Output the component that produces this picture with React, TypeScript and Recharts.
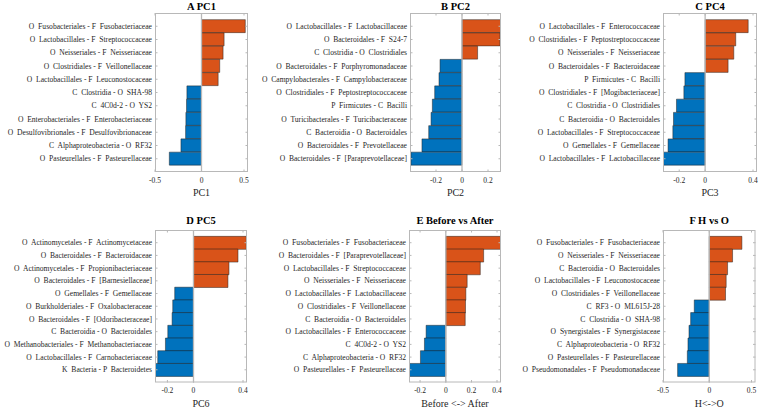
import { BarChart, Bar, XAxis, YAxis, Cell, ReferenceLine } from "recharts";

// A PC1
const pc1Labels = [
  "O  Fusobacteriales - F  Fusobacteriaceae",
  "O  Lactobacillales - F  Streptococcaceae",
  "O  Neisseriales - F  Neisseriaceae",
  "O  Clostridiales - F  Veillonellaceae",
  "O  Lactobacillales - F  Leuconostocaceae",
  "C  Clostridia - O  SHA-98",
  "C  4C0d-2 - O  YS2",
  "O  Enterobacteriales - F  Enterobacteriaceae",
  "O  Desulfovibrionales - F  Desulfovibrionaceae",
  "C  Alphaproteobacteria - O  RF32",
  "O  Pasteurellales - F  Pasteurellaceae",
];
const pc1Values = [0.471, 0.243, 0.232, 0.196, 0.179, -0.157, -0.161, -0.168, -0.171, -0.221, -0.346];

// B PC2
const pc2Labels = [
  "O  Lactobacillales - F  Lactobacillaceae",
  "O  Bacteroidales - F  S24-7",
  "C  Clostridia - O  Clostridiales",
  "O  Bacteroidales - F  Porphyromonadaceae",
  "O  Campylobacterales - F  Campylobacteraceae",
  "O  Clostridiales - F  Peptostreptococcaceae",
  "P  Firmicutes - C  Bacilli",
  "O  Turicibacterales - F  Turicibacteraceae",
  "C  Bacteroidia - O  Bacteroidales",
  "O  Bacteroidales - F  Prevotellaceae",
  "O  Bacteroidales - F  [Paraprevotellaceae]",
];
const pc2Values = [0.3, 0.292, 0.12, -0.169, -0.177, -0.21, -0.228, -0.238, -0.256, -0.308, -0.392];

// C PC4
const pc4Labels = [
  "O  Lactobacillales - F  Enterococcaceae",
  "O  Clostridiales - F  Peptostreptococcaceae",
  "O  Neisseriales - F  Neisseriaceae",
  "O  Bacteroidales - F  Bacteroidaceae",
  "P  Firmicutes - C  Bacilli",
  "O  Clostridiales - F  [Mogibacteriaceae]",
  "C  Clostridia - O  Clostridiales",
  "C  Bacteroidia - O  Bacteroidales",
  "O  Lactobacillales - F  Streptococcaceae",
  "O  Gemellales - F  Gemellaceae",
  "O  Lactobacillales - F  Lactobacillaceae",
];
const pc4Values = [0.332, 0.236, 0.221, 0.177, -0.156, -0.164, -0.221, -0.244, -0.249, -0.286, -0.325];

// D PC5
const pc5Labels = [
  "O  Actinomycetales - F  Actinomycetaceae",
  "O  Bacteroidales - F  Bacteroidaceae",
  "O  Actinomycetales - F  Propionibacteriaceae",
  "O  Bacteroidales - F  [Barnesiellaceae]",
  "O  Gemellales - F  Gemellaceae",
  "O  Burkholderiales - F  Oxalobacteraceae",
  "O  Bacteroidales - F  [Odoribacteraceae]",
  "C  Bacteroidia - O  Bacteroidales",
  "O  Methanobacteriales - F  Methanobacteriaceae",
  "O  Lactobacillales - F  Carnobacteriaceae",
  "K  Bacteria - P  Bacteroidetes",
];
const pc5Values = [0.405, 0.341, 0.272, 0.264, -0.144, -0.159, -0.164, -0.197, -0.215, -0.274, -0.295];

// E Before vs After
const baLabels = [
  "O  Fusobacteriales - F  Fusobacteriaceae",
  "O  Bacteroidales - F  [Paraprevotellaceae]",
  "O  Lactobacillales - F  Streptococcaceae",
  "O  Neisseriales - F  Neisseriaceae",
  "O  Lactobacillales - F  Lactobacillaceae",
  "O  Clostridiales - F  Veillonellaceae",
  "C  Bacteroidia - O  Bacteroidales",
  "O  Lactobacillales - F  Enterococcaceae",
  "C  4C0d-2 - O  YS2",
  "C  Alphaproteobacteria - O  RF32",
  "O  Pasteurellales - F  Pasteurellaceae",
];
const baValues = [0.429, 0.294, 0.268, 0.166, 0.156, 0.153, 0.151, -0.153, -0.166, -0.197, -0.286];

// F H vs O
const hoLabels = [
  "O  Fusobacteriales - F  Fusobacteriaceae",
  "O  Neisseriales - F  Neisseriaceae",
  "C  Bacteroidia - O  Bacteroidales",
  "O  Lactobacillales - F  Leuconostocaceae",
  "O  Clostridiales - F  Veillonellaceae",
  "C  RF3 - O  ML615J-28",
  "C  Clostridia - O  SHA-98",
  "O  Synergistales - F  Synergistaceae",
  "C  Alphaproteobacteria - O  RF32",
  "O  Pasteurellales - F  Pasteurellaceae",
  "O  Pseudomonadales - F  Pseudomonadaceae",
];
const hoValues = [0.353, 0.252, 0.198, 0.183, 0.176, -0.162, -0.201, -0.219, -0.23, -0.237, -0.342];

const ORANGE = "#D95319";
const BLUE = "#0072BD";
const AXIS = "#b8b8b8";
const TEXT = "#262626";
const FONT = "'Liberation Serif', 'Times New Roman', serif";
const LABEL_W = 160;
const TOP_M = 20;
const BOTTOM_H = 32;

function XTick(props: any) {
  const { x, y, payload, h } = props;
  return (
    <g>
      <line x1={x} x2={x} y1={y} y2={y - 2.5} stroke={AXIS} />
      <line x1={x} x2={x} y1={y - h} y2={y - h + 2.5} stroke={AXIS} />
      <text x={x} y={y + 10.5} textAnchor="middle" fontSize={7.5} fontFamily={FONT} fill={TEXT}>
        {String(payload.value)}
      </text>
    </g>
  );
}

function YTick(props: any) {
  const { x, y, payload, w } = props;
  return (
    <g>
      <line x1={x} x2={x + 2.5} y1={y} y2={y} stroke={AXIS} />
      <line x1={x + w} x2={x + w - 2.5} y1={y} y2={y} stroke={AXIS} />
      <text
        x={x - 3}
        y={y + 2.6}
        textAnchor="end"
        fontSize={7.6}
        fontFamily={FONT}
        fill={TEXT}
        style={{ whiteSpace: "pre" }}
      >
        {payload.value}
      </text>
    </g>
  );
}

function Panel(props: any) {
  const { title, xLabel, labels, values, domain, ticks, left, top, w, h, titleGap } = props;
  const data = labels.map((name: string, i: number) => ({ name, value: values[i] }));
  const pad = h / 24;
  const cw = LABEL_W + w + 6;
  const ch = TOP_M + h + BOTTOM_H;
  return (
    <div style={{ position: "absolute", left: left - LABEL_W, top: top - TOP_M, width: cw, height: ch }}>
      <BarChart
        width={cw}
        height={ch}
        data={data}
        layout="vertical"
        margin={{ top: TOP_M, right: 6, bottom: 0, left: 0 }}
        barCategoryGap={0}
      >
        <XAxis
          type="number"
          dataKey="value"
          domain={domain}
          ticks={ticks}
          allowDataOverflow
          height={BOTTOM_H}
          axisLine={false}
          tickLine={false}
          tickSize={0}
          tickMargin={0}
          tick={(p: any) => <XTick {...p} h={h} />}
        />
        <YAxis
          type="category"
          dataKey="name"
          width={LABEL_W}
          axisLine={false}
          tickLine={false}
          tickSize={0}
          tickMargin={0}
          interval={0}
          padding={{ top: pad, bottom: pad }}
          tick={(p: any) => <YTick {...p} w={w} />}
        />
        <ReferenceLine x={0} stroke={AXIS} strokeWidth={1.3} />
        <Bar dataKey="value" isAnimationActive={false} stroke="#1e1e1e" strokeOpacity={0.8} strokeWidth={0.6}>
          {data.map((d: any, i: number) => (
            <Cell key={i} fill={d.value >= 0 ? ORANGE : BLUE} />
          ))}
        </Bar>
      </BarChart>
      <svg
        width={cw}
        height={ch}
        style={{ position: "absolute", left: 0, top: 0, pointerEvents: "none" }}
      >
        <rect x={LABEL_W + 0.5} y={TOP_M + 0.5} width={w - 1} height={h - 1} fill="none" stroke={AXIS} />
        <text
          x={LABEL_W + w / 2}
          y={TOP_M - titleGap}
          textAnchor="middle"
          fontSize={10.5}
          fontWeight="bold"
          fontFamily={FONT}
          fill="#000"
        >
          {title}
        </text>
        <text
          x={LABEL_W + w / 2}
          y={TOP_M + h + 24}
          textAnchor="middle"
          fontSize={10}
          fontFamily={FONT}
          fill={TEXT}
          style={{ whiteSpace: "pre" }}
        >
          {xLabel}
        </text>
      </svg>
    </div>
  );
}

export default function App() {
  return (
    <div style={{ position: "absolute", left: 0, top: 0, width: 760, height: 411, background: "#fff", overflow: "hidden" }}>
      <Panel title="A PC1" xLabel="PC1" labels={pc1Labels} values={pc1Values}
        domain={[-0.5, 0.5]} ticks={[-0.5, 0, 0.5]} left={155} top={12.7} w={93} h={159} titleGap={3.2} />
      <Panel title="B PC2" xLabel="PC2" labels={pc2Labels} values={pc2Values}
        domain={[-0.4, 0.3]} ticks={[-0.4, -0.2, 0, 0.2]} left={410} top={12.7} w={91} h={159} titleGap={3.2} />
      <Panel title="C PC4" xLabel="PC3" labels={pc4Labels} values={pc4Values}
        domain={[-0.325, 0.4]} ticks={[-0.2, 0, 0.2, 0.4]} left={663} top={12.7} w={94} h={159} titleGap={3.2} />
      <Panel title="D PC5" xLabel="PC6" labels={pc5Labels} values={pc5Values}
        domain={[-0.295, 0.41]} ticks={[-0.2, 0, 0.2, 0.4]} left={155} top={230} w={92} h={152.5} titleGap={6} />
      <Panel title="E Before vs After" xLabel="Before <-> After" labels={baLabels} values={baValues}
        domain={[-0.286, 0.429]} ticks={[-0.2, 0, 0.2, 0.4]} left={409} top={230} w={92} h={152.5} titleGap={6} />
      <Panel title="F H vs O" xLabel="H<->O" labels={hoLabels} values={hoValues}
        domain={[-0.5, 0.5]} ticks={[-0.5, 0, 0.5]} left={663} top={230} w={92.5} h={152.5} titleGap={6} />
    </div>
  );
}
